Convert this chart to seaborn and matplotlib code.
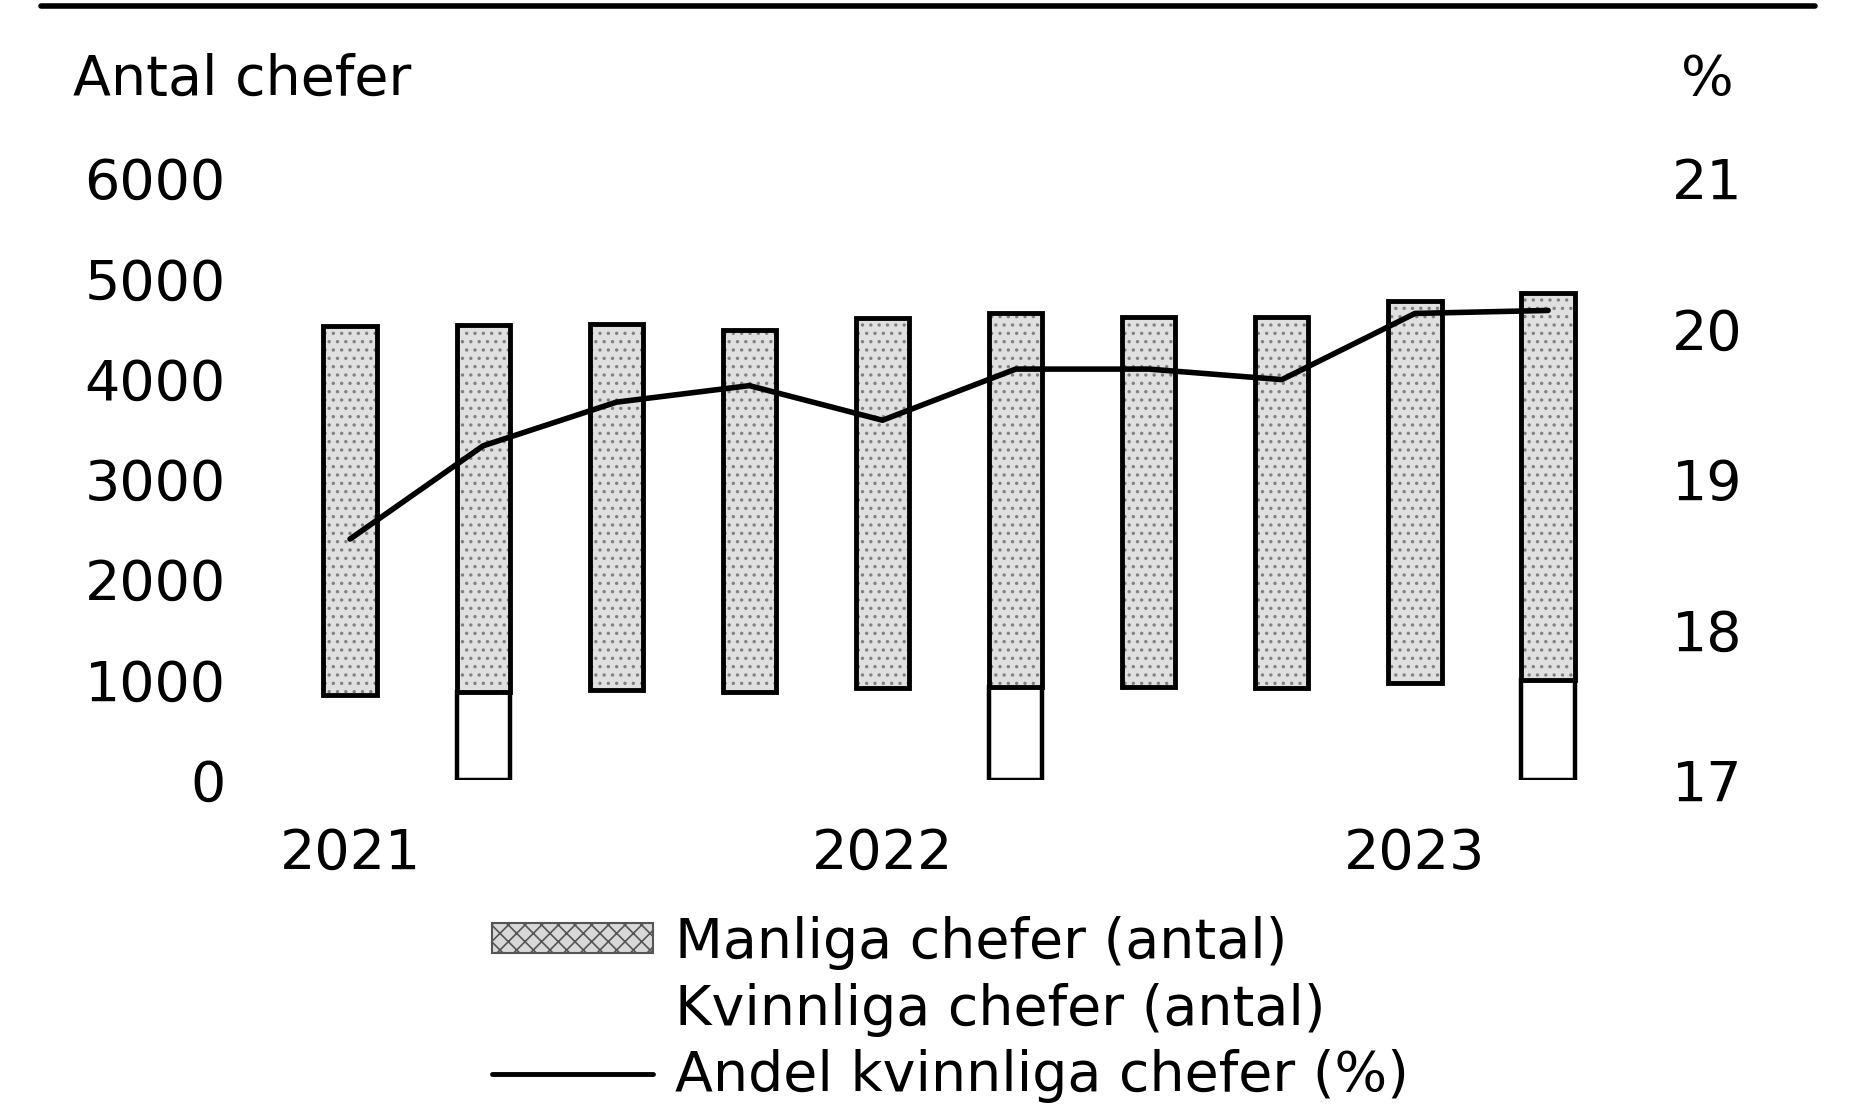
import numpy as np
import pandas as pd
import matplotlib
matplotlib.use("Agg")
import matplotlib.pyplot as plt
import seaborn as sns
from matplotlib.patches import Patch
from matplotlib.lines import Line2D

# data (quarters 2021 Q1 - 2023 Q2)
quarters = ["2021K1", "2021K2", "2021K3", "2021K4", "2022K1",
            "2022K2", "2022K3", "2022K4", "2023K1", "2023K2"]
women = [840, 875, 890, 875, 910, 925, 925, 910, 960, 995]
men = [3680, 3660, 3650, 3610, 3690, 3730, 3690, 3700, 3810, 3860]
share = [18.6, 19.22, 19.51, 19.62, 19.39, 19.73, 19.73, 19.66, 20.10, 20.12]
year_ticks = [0, 4, 8]
year_labels = ["2021", "2022", "2023"]

df = pd.DataFrame({"kvartal": quarters, "kvinnor": women, "man": men, "andel": share})

sns.set_style("white")
plt.rcParams["font.family"] = ["DejaVu Sans"]
plt.rcParams["hatch.linewidth"] = 1.2
plt.rcParams["text.color"] = "black"
plt.rcParams["xtick.color"] = "black"
plt.rcParams["ytick.color"] = "black"

fs = 40
fig = plt.figure(figsize=(18.6, 11.06), dpi=100)
ax = fig.add_axes([0.134, 0.295, 0.752, 0.544])

# women (bottom part) - mostly invisible in the scan, some bars keep an outline
women_edges = ["white", "black", "white", "white", "white",
               "black", "white", "white", "white", "black"]
sns.barplot(data=df, x="kvartal", y="kvinnor", color="white", width=0.4,
            edgecolor="white", linewidth=0, ax=ax)
for p, ec in zip(ax.patches, women_edges):
    p.set_edgecolor(ec)
    p.set_linewidth(3.2 if ec == "black" else 0)

# men (top part): stippled fill then black outline
sns.barplot(data=df, x="kvartal", y="man", bottom=df["kvinnor"], color="#e0e0e0",
            width=0.4, edgecolor="#808080", hatch="..", linewidth=0, ax=ax)
sns.barplot(data=df, x="kvartal", y="man", bottom=df["kvinnor"], color="black",
            fill=False, width=0.4, edgecolor="black", linewidth=3.5, ax=ax)

ax.set_xlim(-0.757, 9.75)
ax.set_ylim(0, 6000)
ax.set_yticks(range(0, 6001, 1000))
ax.set_xticks(year_ticks)
ax.set_xticklabels(year_labels)
ax.set_xlabel("")
ax.set_ylabel("")
ax.tick_params(axis="y", length=0, pad=17, labelsize=fs, labelcolor="black")
ax.tick_params(axis="x", length=0, pad=34, labelsize=fs, labelcolor="black")
for s in ax.spines.values():
    s.set_visible(False)

# share of female managers on right axis
ax2 = ax.twinx()
sns.lineplot(x=np.arange(len(share)), y=share, color="black", linewidth=4, ax=ax2)
ax2.set_ylim(17, 21)
ax2.set_yticks([17, 18, 19, 20, 21])
ax2.tick_params(axis="y", length=0, pad=17, labelsize=fs, labelcolor="black")
for s in ax2.spines.values():
    s.set_visible(False)
ax2.set_xlim(-0.757, 9.75)

fig.text(0.0395, 0.928, "Antal chefer", fontsize=fs, va="center", ha="left")
fig.text(0.918, 0.928, "%", fontsize=fs, va="center", ha="center")

# thick rule at the top
fig.add_artist(Line2D([0.022, 0.976], [0.9946, 0.9946], color="black", linewidth=4))

handles = [
    Patch(facecolor="#d8d8d8", edgecolor="#555555", hatch="xx", linewidth=1.5),
    Patch(facecolor="white", edgecolor="white", linewidth=0),
    Line2D([0], [0], color="black", linewidth=3.5),
]
labels = ["Manliga chefer (antal)", "Kvinnliga chefer (antal)", "Andel kvinnliga chefer (%)"]
fig.legend(handles, labels, loc="upper left", bbox_to_anchor=(0.2647, 0.172),
           frameon=False, fontsize=fs, handlelength=2.9, handleheight=0.45,
           handletextpad=0.38, labelspacing=0.23, borderpad=0, borderaxespad=0)

fig.savefig("out.png", dpi=100)
